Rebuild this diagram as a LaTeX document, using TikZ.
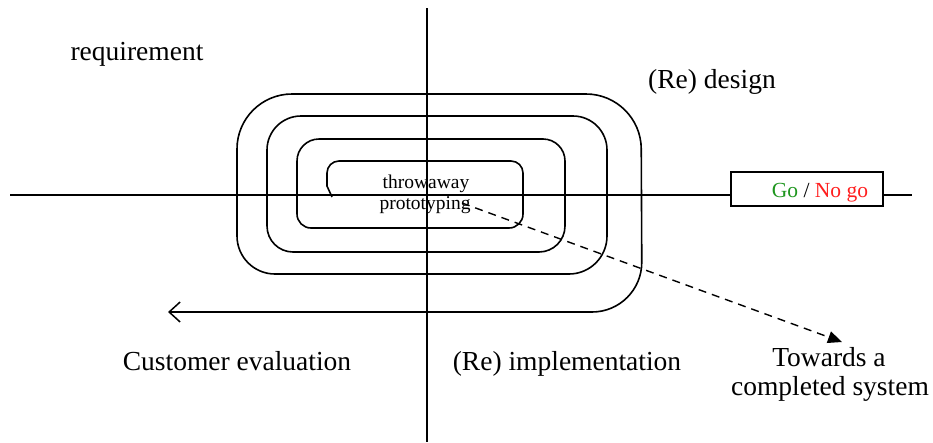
\documentclass[tikz,border=0pt]{standalone}
\usepackage{fontspec}
\setmainfont{Liberation Serif}
\usetikzlibrary{arrows.meta}
\definecolor{gogreen}{RGB}{30,150,30}
\definecolor{nogored}{RGB}{255,30,30}
\begin{document}
\begin{tikzpicture}[x=1pt,y=-1pt,
  axis/.style={line width=1.5pt,black},
  spiral/.style={line width=1.6pt,black},
  bigtext/.style={font=\fontsize{27.5}{31}\selectfont,anchor=base,inner sep=0pt},
  smalltext/.style={font=\fontsize{19.5}{22}\selectfont,anchor=base,inner sep=0pt},
  gobox/.style={draw,line width=1.5pt,fill=white,minimum width=152pt,minimum height=34pt,inner sep=0pt}]
\useasboundingbox (0,0) rectangle (933,442);
% axes
\coordinate (hl) at (10,195);
\coordinate (hr) at (912,195);
\coordinate (vt) at (427,8);
\coordinate (vb) at (427,442);
\draw[axis] (hl) -- (hr);
\draw[axis] (vt) -- (vb);
% spiral
\coordinate (sp0) at (332,197);
\coordinate (arrowend) at (168,312);
\draw[spiral,-{Straight Barb[length=11pt,width=20pt,line width=1.5pt]}] (sp0) -- (327,186)
  [rounded corners=12pt] -- (327,161) -- (523,161)
  [rounded corners=14pt] -- (523,228) -- (297,228)
  [rounded corners=22pt] -- (297,139) -- (565,139)
  [rounded corners=26pt] -- (565,252) -- (267,252)
  [rounded corners=34pt] -- (267,116) -- (607,116)
  [rounded corners=38pt] -- (607,274) -- (237,274)
  [rounded corners=55pt] -- (237,94) -- (641,94)
  [rounded corners=50pt] -- (642,312) -- (300,312)
  [rounded corners=0pt] -- (arrowend);
% go / no go box
\node[gobox] (go) at (807,189) {};
\node[font=\fontsize{21.5}{24}\selectfont,anchor=base,inner sep=0pt] (golabel) at (820,197)
  {\textcolor{gogreen}{Go} / \textcolor{nogored}{No go}};
% texts
\node[bigtext] (req) at (137,60) {requirement};
\node[bigtext] (des) at (712,88) {(Re) design};
\node[bigtext] (cust) at (237,370) {Customer evaluation};
\node[bigtext] (impl) at (567,370) {(Re) implementation};
\node[bigtext] (tow) at (829,366) {Towards a};
\node[bigtext] (comp) at (830,395) {completed system};
\node[smalltext] (thr) at (426,188) {throwaway};
\node[smalltext] (proto) at (425,209) {prototyping};
% dashed arrow
\coordinate (dstart) at (462,203);
\coordinate (dend) at (842,342);
\draw[line width=1.4pt,dash pattern=on 8pt off 6pt,-{Triangle[length=14pt,width=12pt]}] (dstart) -- (dend);
\end{tikzpicture}
\end{document}
